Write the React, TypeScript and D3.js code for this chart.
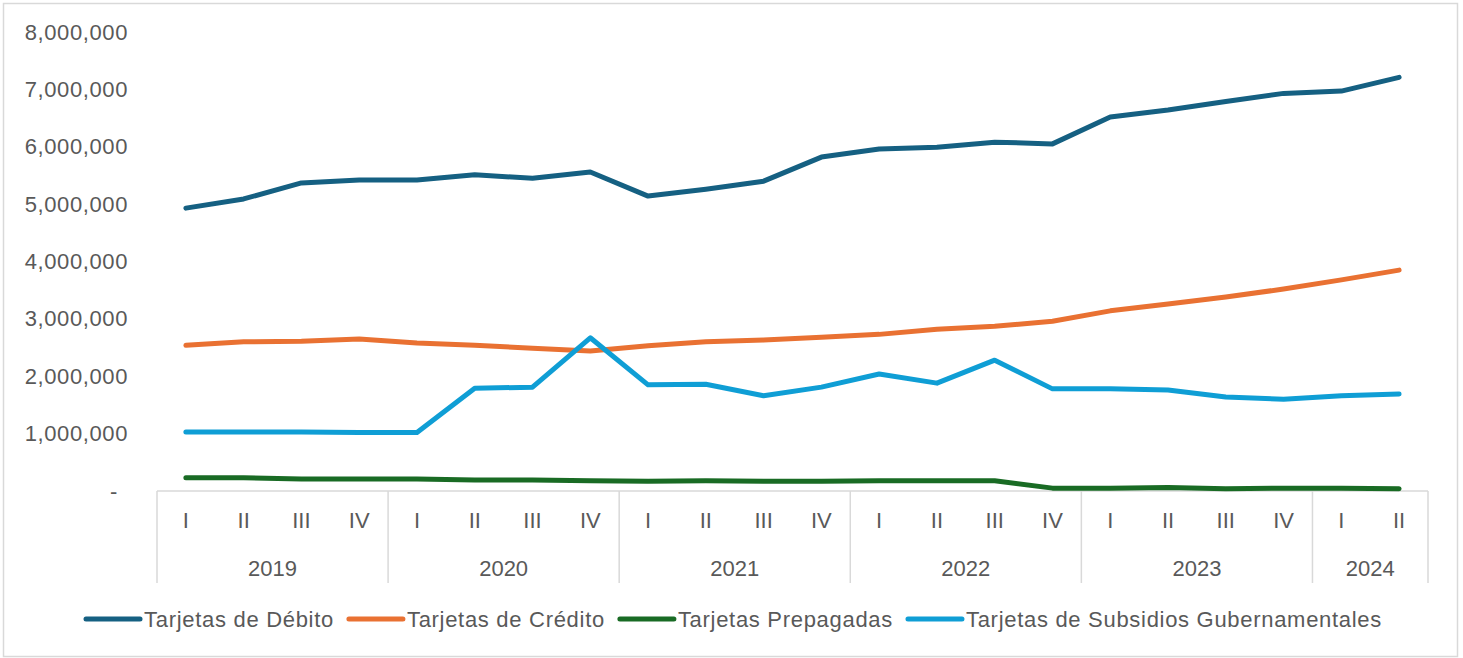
import React, { useRef, useEffect } from 'react';
import * as d3 from 'd3';

const W = 1463;
const H = 658;

const YEARS = ['2019', '2019', '2019', '2019', '2020', '2020', '2020', '2020', '2021', '2021', '2021', '2021',
  '2022', '2022', '2022', '2022', '2023', '2023', '2023', '2023', '2024', '2024'];
const QUARTERS = ['I', 'II', 'III', 'IV', 'I', 'II', 'III', 'IV', 'I', 'II', 'III', 'IV',
  'I', 'II', 'III', 'IV', 'I', 'II', 'III', 'IV', 'I', 'II'];

const DEBITO = [4930000, 5090000, 5370000, 5420000, 5420000, 5510000, 5450000, 5560000, 5140000, 5260000, 5400000, 5820000,
  5960000, 5990000, 6080000, 6050000, 6520000, 6640000, 6790000, 6930000, 6970000, 7210000];
const CREDITO = [2540000, 2600000, 2610000, 2650000, 2580000, 2540000, 2490000, 2440000, 2530000, 2600000, 2630000, 2680000,
  2730000, 2820000, 2870000, 2960000, 3140000, 3260000, 3380000, 3520000, 3680000, 3850000];
const PREPAGADAS = [230000, 230000, 210000, 210000, 210000, 190000, 190000, 180000, 170000, 180000, 170000, 170000,
  180000, 180000, 180000, 50000, 50000, 60000, 40000, 50000, 50000, 40000];
const SUBSIDIOS = [1030000, 1030000, 1030000, 1020000, 1020000, 1790000, 1810000, 2670000, 1850000, 1860000, 1660000, 1810000,
  2040000, 1880000, 2280000, 1780000, 1780000, 1760000, 1640000, 1600000, 1660000, 1690000];

const Y_TICKS = [0, 1000000, 2000000, 3000000, 4000000, 5000000, 6000000, 7000000, 8000000];

const SERIES = [
  { name: 'Tarjetas de Débito', values: DEBITO, color: '#156082' },
  { name: 'Tarjetas de Crédito', values: CREDITO, color: '#E97132' },
  { name: 'Tarjetas Prepagadas', values: PREPAGADAS, color: '#196B24' },
  { name: 'Tarjetas de Subsidios Gubernamentales', values: SUBSIDIOS, color: '#0F9ED5' },
];

const PLOT = { left: 157, right: 1428, top: 32, bottom: 491 };
const FONT = '"Liberation Sans", Arial, sans-serif';
const TEXT = '#595959';
const GRID = '#d9d9d9';

export default function App() {
  const svgRef = useRef<SVGSVGElement>(null);

  useEffect(() => {
    if (!svgRef.current) return;
    const svg = d3.select(svgRef.current);
    svg.selectAll('*').remove();

    svg.append('rect').attr('width', W).attr('height', H).attr('fill', '#fff');
    svg.append('rect').attr('x', 3.5).attr('y', 3.5).attr('width', 1454).attr('height', 653)
      .attr('fill', 'none').attr('stroke', GRID).attr('stroke-width', 1.5);

    const idx = d3.range(QUARTERS.length);
    const x = d3.scaleBand<number>().domain(idx).range([PLOT.left, PLOT.right]).padding(0);
    const cx = (i: number) => (x(i) as number) + x.bandwidth() / 2;
    const y = d3.scaleLinear().domain([0, 8000000]).range([PLOT.bottom, PLOT.top]);

    // Y axis labels
    const yAxis = svg.append('g')
      .attr('transform', `translate(${PLOT.left},0)`)
      .call(d3.axisLeft(y).tickValues(Y_TICKS).tickSize(0).tickPadding(29)
        .tickFormat(d => (d === 0 ? '-' : d3.format(',')(d as number))));
    yAxis.select('.domain').remove();
    yAxis.selectAll('text')
      .attr('fill', TEXT).attr('font-size', '22px').attr('font-family', FONT)
      .attr('letter-spacing', '0.6px')
      .attr('dx', (d: any) => (d === 0 ? -10 : 0));

    // X axis baseline
    svg.append('line')
      .attr('x1', PLOT.left).attr('x2', PLOT.right).attr('y1', PLOT.bottom).attr('y2', PLOT.bottom)
      .attr('stroke', GRID).attr('stroke-width', 1.5);

    // Quarter labels
    svg.append('g').selectAll('text').data(idx).join('text')
      .attr('x', d => cx(d)).attr('y', 520).attr('dy', '0.35em')
      .attr('text-anchor', 'middle').attr('fill', TEXT)
      .attr('font-size', '22px').attr('font-family', FONT)
      .text(d => QUARTERS[d]);

    // Year groups
    const years = Array.from(new Set(YEARS));
    const groups = years.map(yr => {
      const members = idx.filter(i => YEARS[i] === yr);
      const start = x(members[0]) as number;
      const end = (x(members[members.length - 1]) as number) + x.bandwidth();
      return { yr, start, end };
    });
    const seps = [groups[0].start, ...groups.map(g => g.end)];
    svg.append('g').selectAll('line').data(seps).join('line')
      .attr('x1', d => d).attr('x2', d => d).attr('y1', PLOT.bottom).attr('y2', 583)
      .attr('stroke', GRID).attr('stroke-width', 1.5);
    svg.append('g').selectAll('text').data(groups).join('text')
      .attr('x', d => (d.start + d.end) / 2).attr('y', 568).attr('dy', '0.35em')
      .attr('text-anchor', 'middle').attr('fill', TEXT)
      .attr('font-size', '22px').attr('font-family', FONT)
      .text(d => d.yr);

    // Lines
    const line = d3.line<number>().x((_, i) => cx(i)).y(d => y(d));
    SERIES.forEach(s => {
      svg.append('path').datum(s.values)
        .attr('d', line)
        .attr('fill', 'none').attr('stroke', s.color).attr('stroke-width', 5)
        .attr('stroke-linejoin', 'round').attr('stroke-linecap', 'round');
    });

    // Legend
    const legend = svg.append('g');
    const items = SERIES.map(s => {
      const g = legend.append('g');
      g.append('line').attr('x1', 0).attr('x2', 54).attr('y1', 0).attr('y2', 0)
        .attr('stroke', s.color).attr('stroke-width', 5).attr('stroke-linecap', 'round');
      const t = g.append('text').attr('x', 58).attr('y', 0).attr('dy', '0.35em')
        .attr('fill', TEXT).attr('font-size', '22px').attr('font-family', FONT)
        .attr('letter-spacing', '0.7px')
        .text(s.name);
      const tw = (t.node() as SVGTextElement).getComputedTextLength();
      return { g, w: 58 + tw };
    });
    const gap = 15;
    const total = d3.sum(items, d => d.w) + gap * (items.length - 1);
    let lx = 734 - total / 2;
    items.forEach(it => {
      it.g.attr('transform', `translate(${lx},619)`);
      lx += it.w + gap;
    });
  }, []);

  return (
    <svg ref={svgRef} width={W} height={H}
      style={{ position: 'absolute', top: 0, left: 0, display: 'block' }} />
  );
}
